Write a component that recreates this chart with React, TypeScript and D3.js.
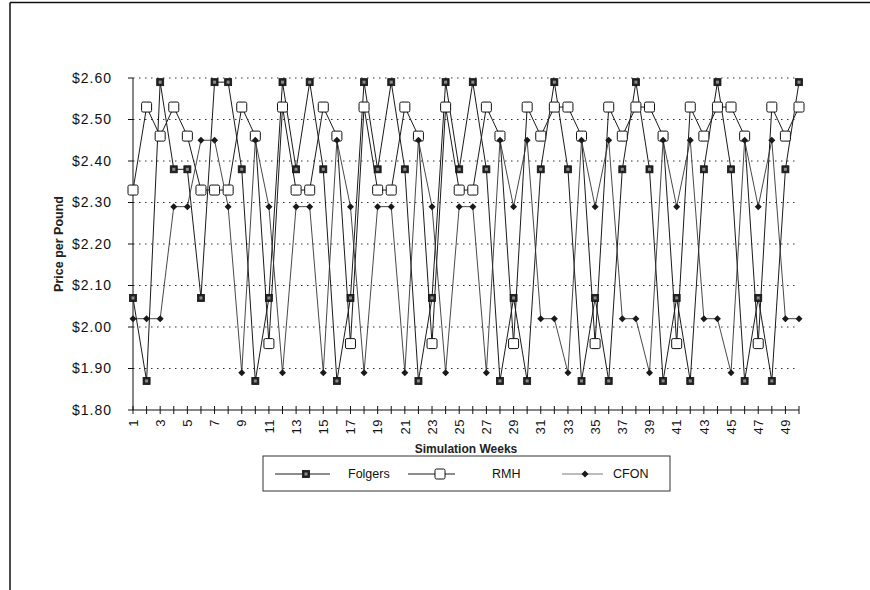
import React, { useEffect, useRef } from 'react';
import * as d3 from 'd3';

const weeks = [
  1, 2, 3, 4, 5, 6, 7, 8, 9, 10, 11, 12, 13, 14, 15, 16, 17, 18, 19, 20, 21, 22, 23, 24, 25,
  26, 27, 28, 29, 30, 31, 32, 33, 34, 35, 36, 37, 38, 39, 40, 41, 42, 43, 44, 45, 46, 47, 48, 49, 50,
];

const folgers = [
  2.07, 1.87, 2.59, 2.38, 2.38, 2.07, 2.59, 2.59, 2.38, 1.87,
  2.07, 2.59, 2.38, 2.59, 2.38, 1.87, 2.07, 2.59, 2.38, 2.59,
  2.38, 1.87, 2.07, 2.59, 2.38, 2.59, 2.38, 1.87, 2.07, 1.87,
  2.38, 2.59, 2.38, 1.87, 2.07, 1.87, 2.38, 2.59, 2.38, 1.87,
  2.07, 1.87, 2.38, 2.59, 2.38, 1.87, 2.07, 1.87, 2.38, 2.59,
];

const rmh = [
  2.33, 2.53, 2.46, 2.53, 2.46, 2.33, 2.33, 2.33, 2.53, 2.46,
  1.96, 2.53, 2.33, 2.33, 2.53, 2.46, 1.96, 2.53, 2.33, 2.33,
  2.53, 2.46, 1.96, 2.53, 2.33, 2.33, 2.53, 2.46, 1.96, 2.53,
  2.46, 2.53, 2.53, 2.46, 1.96, 2.53, 2.46, 2.53, 2.53, 2.46,
  1.96, 2.53, 2.46, 2.53, 2.53, 2.46, 1.96, 2.53, 2.46, 2.53,
];

const cfon = [
  2.02, 2.02, 2.02, 2.29, 2.29, 2.45, 2.45, 2.29, 1.89, 2.45,
  2.29, 1.89, 2.29, 2.29, 1.89, 2.45, 2.29, 1.89, 2.29, 2.29,
  1.89, 2.45, 2.29, 1.89, 2.29, 2.29, 1.89, 2.45, 2.29, 2.45,
  2.02, 2.02, 1.89, 2.45, 2.29, 2.45, 2.02, 2.02, 1.89, 2.45,
  2.29, 2.45, 2.02, 2.02, 1.89, 2.45, 2.29, 2.45, 2.02, 2.02,
];

const yTicks = [1.8, 1.9, 2.0, 2.1, 2.2, 2.3, 2.4, 2.5, 2.6];
const seriesNames = ['Folgers', 'RMH', 'CFON'];

const FONT = '"Liberation Sans", Arial, Helvetica, sans-serif';

export default function App() {
  const ref = useRef<SVGSVGElement | null>(null);

  useEffect(() => {
    const width = 870,
      height = 590;
    const svg = d3.select(ref.current);
    svg.selectAll('*').remove();
    svg.attr('width', width).attr('height', height);

    svg.append('rect').attr('width', width).attr('height', height).attr('fill', '#fff');

    // outer frame (top and left edges of the scanned page)
    svg.append('line').attr('x1', 10).attr('x2', width).attr('y1', 2.5).attr('y2', 2.5)
      .attr('stroke', '#111').attr('stroke-width', 1.5);
    svg.append('line').attr('x1', 10).attr('x2', 10).attr('y1', 2.5).attr('y2', height)
      .attr('stroke', '#111').attr('stroke-width', 1.5);

    // scales
    const x = d3.scalePoint<number>().domain(weeks).range([133, 799]);
    const y = d3.scaleLinear().domain([1.8, 2.6]).range([410, 78]);
    const x0 = 133, x1 = 799, yBase = y(1.8), yTop = y(2.6);

    // gridlines
    svg.append('g')
      .selectAll('line')
      .data(yTicks.slice(1))
      .enter()
      .append('line')
      .attr('x1', x0)
      .attr('x2', x1)
      .attr('y1', (d) => y(d))
      .attr('y2', (d) => y(d))
      .attr('stroke', '#333')
      .attr('stroke-width', 1)
      .attr('stroke-dasharray', '1.5,4.5');

    // y axis
    const yAxis = svg.append('g');
    yAxis.append('line').attr('x1', x0).attr('x2', x0).attr('y1', yTop).attr('y2', yBase)
      .attr('stroke', '#111');
    yAxis.selectAll('line.tk').data(yTicks).enter().append('line').attr('class', 'tk')
      .attr('x1', x0 - 5).attr('x2', x0).attr('y1', (d) => y(d)).attr('y2', (d) => y(d))
      .attr('stroke', '#111');
    yAxis.selectAll('text').data(yTicks).enter().append('text')
      .attr('x', 112)
      .attr('y', (d) => y(d))
      .attr('dy', '0.35em')
      .attr('text-anchor', 'end')
      .style('font-family', FONT)
      .style('font-size', '14px')
      .style('letter-spacing', '1px')
      .attr('fill', '#111')
      .text((d) => '$' + d.toFixed(2));

    svg.append('text')
      .attr('transform', `translate(63,${(yTop + yBase) / 2}) rotate(-90)`)
      .attr('text-anchor', 'middle')
      .style('font-family', FONT)
      .style('font-size', '12.5px')
      .style('font-weight', 'bold')
      .attr('fill', '#222')
      .text('Price per Pound');

    // x axis
    const xAxis = svg.append('g');
    xAxis.append('line').attr('x1', x0).attr('x2', x1).attr('y1', yBase).attr('y2', yBase)
      .attr('stroke', '#111');
    xAxis.selectAll('line.tk').data(weeks).enter().append('line').attr('class', 'tk')
      .attr('x1', (d) => x(d) as number).attr('x2', (d) => x(d) as number)
      .attr('y1', yBase - 4).attr('y2', yBase + 4)
      .attr('stroke', '#111');
    xAxis.selectAll('text').data(weeks.filter((d) => d % 2 === 1)).enter().append('text')
      .attr('transform', (d) => `translate(${x(d)},${yBase + 9}) rotate(-90)`)
      .attr('dy', '0.36em')
      .attr('text-anchor', 'end')
      .style('font-family', FONT)
      .style('font-size', '13px')
      .style('letter-spacing', '0.5px')
      .attr('fill', '#111')
      .text((d) => String(d));

    svg.append('text')
      .attr('x', (x0 + x1) / 2)
      .attr('y', 453)
      .attr('text-anchor', 'middle')
      .style('font-family', FONT)
      .style('font-size', '12px')
      .style('font-weight', 'bold')
      .attr('fill', '#222')
      .text('Simulation Weeks');

    // lines
    const allSeries = [folgers, rmh, cfon];
    const line = d3.line<number>()
      .x((d, i) => x(weeks[i]) as number)
      .y((d) => y(d));

    svg.selectAll('path.series')
      .data(allSeries)
      .enter()
      .append('path')
      .attr('class', 'series')
      .attr('d', (d) => line(d))
      .style('fill', 'none')
      .style('stroke', (d, i) => (i === 2 ? '#333' : '#1a1a1a'))
      .style('stroke-width', (d, i) => (i === 2 ? 0.9 : 1));

    // marker drawers
    const drawFolgers = (g: any, cx: number, cy: number) => {
      g.append('rect').attr('x', cx - 3.5).attr('y', cy - 3.5).attr('width', 7).attr('height', 7)
        .attr('fill', '#222').attr('stroke', '#111').attr('stroke-width', 0.8);
      g.append('rect').attr('x', cx - 1.5).attr('y', cy - 1.5).attr('width', 3).attr('height', 3)
        .attr('fill', '#8c8c8c');
    };
    const drawRmh = (g: any, cx: number, cy: number) => {
      g.append('rect').attr('x', cx - 5).attr('y', cy - 5).attr('width', 10).attr('height', 10)
        .attr('rx', 1.5).attr('fill', '#fff').attr('stroke', '#111').attr('stroke-width', 1);
    };
    const drawCfon = (g: any, cx: number, cy: number) => {
      g.append('path')
        .attr('d', `M${cx},${cy - 3.5}L${cx + 3.5},${cy}L${cx},${cy + 3.5}L${cx - 3.5},${cy}Z`)
        .attr('fill', '#1a1a1a');
    };
    const drawers = [drawFolgers, drawRmh, drawCfon];

    const markers = svg.append('g');
    [1, 0, 2].forEach((s) => {
      allSeries[s].forEach((v, i) => {
        drawers[s](markers, x(weeks[i]) as number, y(v));
      });
    });

    // legend
    const legend = svg.append('g');
    legend.append('rect').attr('x', 263).attr('y', 456).attr('width', 407).attr('height', 35)
      .attr('fill', '#fff').attr('stroke', '#333').attr('stroke-width', 1);
    const legendItems = [
      { x1: 275, x2: 330, mx: 306, tx: 348 },
      { x1: 408, x2: 455, mx: 440, tx: 492 },
      { x1: 562, x2: 603, mx: 585, tx: 613 },
    ];
    const ly = 474;
    seriesNames.forEach((name, i) => {
      const it = legendItems[i];
      legend.append('line').attr('x1', it.x1).attr('x2', it.x2).attr('y1', ly).attr('y2', ly)
        .attr('stroke', i === 2 ? '#555' : '#1a1a1a').attr('stroke-width', i === 2 ? 0.8 : 1);
      drawers[i](legend, it.mx, ly);
      legend.append('text')
        .attr('x', it.tx)
        .attr('y', ly)
        .attr('dy', '0.35em')
        .style('font-family', FONT)
        .style('font-size', '12.5px')
        .attr('fill', '#111')
        .text(name);
    });
  }, []);

  return (
    <div style={{ position: 'fixed', left: 0, top: 0, width: 870, height: 590, background: '#fff' }}>
      <svg ref={ref} style={{ display: 'block' }}></svg>
    </div>
  );
}
